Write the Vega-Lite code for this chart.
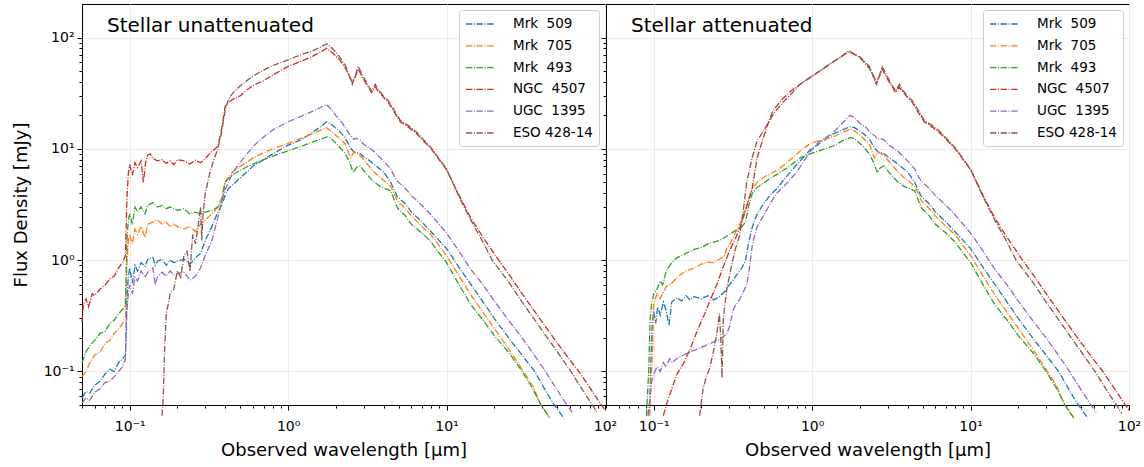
{
"$schema":"https://vega.github.io/schema/vega-lite/v6.json",
"padding":{"left":11,"top":3,"right":5,"bottom":5},
"bounds":"flush",
"spacing":1,
"datasets":{
"names":[{"g":"B","name":"Mrk\u00a0\u00a0509"},{"g":"O","name":"Mrk\u00a0\u00a0705"},{"g":"G","name":"Mrk\u00a0\u00a0493"},{"g":"R","name":"NGC\u00a0\u00a04507"},{"g":"P","name":"UGC\u00a0\u00a01395"},{"g":"N","name":"ESO 428-14"}],
"sed":[
{"p":"u","g":"B","x":0.05,"y":0.058},{"p":"u","g":"B","x":0.053,"y":0.066},{"p":"u","g":"B","x":0.056,"y":0.064},{"p":"u","g":"B","x":0.06,"y":0.075},{"p":"u","g":"B","x":0.065,"y":0.082},{"p":"u","g":"B","x":0.07,"y":0.095},{"p":"u","g":"B","x":0.075,"y":0.105},{"p":"u","g":"B","x":0.08,"y":0.1},{"p":"u","g":"B","x":0.085,"y":0.12},{"p":"u","g":"B","x":0.09,"y":0.13},{"p":"u","g":"B","x":0.094,"y":0.14},{"p":"u","g":"B","x":0.096,"y":0.45},{"p":"u","g":"B","x":0.098,"y":0.7},{"p":"u","g":"B","x":0.1,"y":0.85},{"p":"u","g":"B","x":0.104,"y":0.62},{"p":"u","g":"B","x":0.108,"y":0.9},{"p":"u","g":"B","x":0.112,"y":0.8},{"p":"u","g":"B","x":0.118,"y":0.95},{"p":"u","g":"B","x":0.125,"y":0.88},{"p":"u","g":"B","x":0.13,"y":1.02},{"p":"u","g":"B","x":0.14,"y":1.06},{"p":"u","g":"B","x":0.145,"y":0.9},{"p":"u","g":"B","x":0.15,"y":0.98},{"p":"u","g":"B","x":0.16,"y":1.02},{"p":"u","g":"B","x":0.17,"y":0.9},{"p":"u","g":"B","x":0.18,"y":1.0},{"p":"u","g":"B","x":0.19,"y":0.95},{"p":"u","g":"B","x":0.2,"y":0.98},{"p":"u","g":"B","x":0.22,"y":1.02},{"p":"u","g":"B","x":0.24,"y":0.92},{"p":"u","g":"B","x":0.26,"y":1.05},{"p":"u","g":"B","x":0.28,"y":1.15},{"p":"u","g":"B","x":0.3,"y":1.5},{"p":"u","g":"B","x":0.33,"y":2.0},{"p":"u","g":"B","x":0.36,"y":2.7},{"p":"u","g":"B","x":0.38,"y":3.1},{"p":"u","g":"B","x":0.4,"y":3.8},{"p":"u","g":"B","x":0.42,"y":4.4},{"p":"u","g":"B","x":0.45,"y":4.8},{"p":"u","g":"B","x":0.5,"y":5.5},{"p":"u","g":"B","x":0.55,"y":6.2},{"p":"u","g":"B","x":0.6,"y":7.0},{"p":"u","g":"B","x":0.7,"y":8.0},{"p":"u","g":"B","x":0.8,"y":9.0},{"p":"u","g":"B","x":1.0,"y":10.8},{"p":"u","g":"B","x":1.2,"y":12.0},{"p":"u","g":"B","x":1.4,"y":13.8},{"p":"u","g":"B","x":1.6,"y":15.8},{"p":"u","g":"B","x":1.75,"y":17.5},{"p":"u","g":"B","x":1.85,"y":16.8},{"p":"u","g":"B","x":2.1,"y":14.5},{"p":"u","g":"B","x":2.3,"y":12.5},
{"p":"u","g":"O","x":0.05,"y":0.09},{"p":"u","g":"O","x":0.053,"y":0.1},{"p":"u","g":"O","x":0.056,"y":0.12},{"p":"u","g":"O","x":0.06,"y":0.14},{"p":"u","g":"O","x":0.065,"y":0.15},{"p":"u","g":"O","x":0.07,"y":0.18},{"p":"u","g":"O","x":0.075,"y":0.19},{"p":"u","g":"O","x":0.08,"y":0.22},{"p":"u","g":"O","x":0.085,"y":0.24},{"p":"u","g":"O","x":0.09,"y":0.27},{"p":"u","g":"O","x":0.094,"y":0.3},{"p":"u","g":"O","x":0.096,"y":0.9},{"p":"u","g":"O","x":0.098,"y":1.5},{"p":"u","g":"O","x":0.1,"y":1.7},{"p":"u","g":"O","x":0.104,"y":1.4},{"p":"u","g":"O","x":0.108,"y":1.9},{"p":"u","g":"O","x":0.112,"y":1.7},{"p":"u","g":"O","x":0.118,"y":2.0},{"p":"u","g":"O","x":0.125,"y":1.6},{"p":"u","g":"O","x":0.13,"y":2.1},{"p":"u","g":"O","x":0.14,"y":2.2},{"p":"u","g":"O","x":0.15,"y":2.3},{"p":"u","g":"O","x":0.16,"y":2.1},{"p":"u","g":"O","x":0.17,"y":2.2},{"p":"u","g":"O","x":0.18,"y":2.0},{"p":"u","g":"O","x":0.19,"y":2.1},{"p":"u","g":"O","x":0.2,"y":2.0},{"p":"u","g":"O","x":0.22,"y":1.9},{"p":"u","g":"O","x":0.24,"y":2.0},{"p":"u","g":"O","x":0.26,"y":1.8},{"p":"u","g":"O","x":0.28,"y":2.1},{"p":"u","g":"O","x":0.3,"y":2.3},{"p":"u","g":"O","x":0.33,"y":2.6},{"p":"u","g":"O","x":0.36,"y":3.0},{"p":"u","g":"O","x":0.38,"y":3.6},{"p":"u","g":"O","x":0.4,"y":5.0},{"p":"u","g":"O","x":0.42,"y":5.6},{"p":"u","g":"O","x":0.45,"y":6.3},{"p":"u","g":"O","x":0.5,"y":7.0},{"p":"u","g":"O","x":0.55,"y":7.6},{"p":"u","g":"O","x":0.6,"y":8.3},{"p":"u","g":"O","x":0.7,"y":9.2},{"p":"u","g":"O","x":0.8,"y":10.0},{"p":"u","g":"O","x":1.0,"y":11.2},{"p":"u","g":"O","x":1.2,"y":12.4},{"p":"u","g":"O","x":1.4,"y":13.5},{"p":"u","g":"O","x":1.6,"y":14.7},{"p":"u","g":"O","x":1.75,"y":15.5},{"p":"u","g":"O","x":1.85,"y":14.5},{"p":"u","g":"O","x":2.1,"y":12.5},{"p":"u","g":"O","x":2.3,"y":11.0},
{"p":"u","g":"G","x":0.05,"y":0.12},{"p":"u","g":"G","x":0.053,"y":0.15},{"p":"u","g":"G","x":0.056,"y":0.17},{"p":"u","g":"G","x":0.06,"y":0.19},{"p":"u","g":"G","x":0.065,"y":0.22},{"p":"u","g":"G","x":0.07,"y":0.23},{"p":"u","g":"G","x":0.075,"y":0.27},{"p":"u","g":"G","x":0.08,"y":0.29},{"p":"u","g":"G","x":0.085,"y":0.33},{"p":"u","g":"G","x":0.09,"y":0.36},{"p":"u","g":"G","x":0.094,"y":0.4},{"p":"u","g":"G","x":0.096,"y":1.5},{"p":"u","g":"G","x":0.098,"y":2.3},{"p":"u","g":"G","x":0.1,"y":2.6},{"p":"u","g":"G","x":0.104,"y":2.1},{"p":"u","g":"G","x":0.108,"y":3.0},{"p":"u","g":"G","x":0.112,"y":2.7},{"p":"u","g":"G","x":0.118,"y":3.0},{"p":"u","g":"G","x":0.125,"y":2.6},{"p":"u","g":"G","x":0.13,"y":3.1},{"p":"u","g":"G","x":0.14,"y":3.3},{"p":"u","g":"G","x":0.15,"y":3.0},{"p":"u","g":"G","x":0.16,"y":3.1},{"p":"u","g":"G","x":0.17,"y":2.9},{"p":"u","g":"G","x":0.18,"y":3.0},{"p":"u","g":"G","x":0.19,"y":2.9},{"p":"u","g":"G","x":0.2,"y":2.8},{"p":"u","g":"G","x":0.22,"y":2.9},{"p":"u","g":"G","x":0.24,"y":2.6},{"p":"u","g":"G","x":0.26,"y":2.7},{"p":"u","g":"G","x":0.28,"y":2.6},{"p":"u","g":"G","x":0.3,"y":2.7},{"p":"u","g":"G","x":0.33,"y":2.8},{"p":"u","g":"G","x":0.36,"y":3.0},{"p":"u","g":"G","x":0.38,"y":3.3},{"p":"u","g":"G","x":0.4,"y":5.0},{"p":"u","g":"G","x":0.42,"y":5.4},{"p":"u","g":"G","x":0.45,"y":5.9},{"p":"u","g":"G","x":0.5,"y":6.4},{"p":"u","g":"G","x":0.55,"y":6.9},{"p":"u","g":"G","x":0.6,"y":7.3},{"p":"u","g":"G","x":0.7,"y":8.0},{"p":"u","g":"G","x":0.8,"y":8.6},{"p":"u","g":"G","x":1.0,"y":9.6},{"p":"u","g":"G","x":1.2,"y":10.5},{"p":"u","g":"G","x":1.4,"y":11.4},{"p":"u","g":"G","x":1.6,"y":12.2},{"p":"u","g":"G","x":1.75,"y":12.8},{"p":"u","g":"G","x":1.85,"y":12.6},{"p":"u","g":"G","x":2.1,"y":10.5},{"p":"u","g":"G","x":2.3,"y":9.0},
{"p":"u","g":"R","x":0.05,"y":0.28},{"p":"u","g":"R","x":0.051,"y":0.4},{"p":"u","g":"R","x":0.053,"y":0.45},{"p":"u","g":"R","x":0.055,"y":0.38},{"p":"u","g":"R","x":0.058,"y":0.5},{"p":"u","g":"R","x":0.06,"y":0.48},{"p":"u","g":"R","x":0.065,"y":0.55},{"p":"u","g":"R","x":0.07,"y":0.6},{"p":"u","g":"R","x":0.075,"y":0.68},{"p":"u","g":"R","x":0.08,"y":0.72},{"p":"u","g":"R","x":0.085,"y":0.85},{"p":"u","g":"R","x":0.09,"y":0.95},{"p":"u","g":"R","x":0.094,"y":1.1},{"p":"u","g":"R","x":0.096,"y":3.5},{"p":"u","g":"R","x":0.098,"y":6.0},{"p":"u","g":"R","x":0.1,"y":7.2},{"p":"u","g":"R","x":0.104,"y":5.8},{"p":"u","g":"R","x":0.108,"y":7.5},{"p":"u","g":"R","x":0.112,"y":6.8},{"p":"u","g":"R","x":0.118,"y":7.8},{"p":"u","g":"R","x":0.122,"y":5.0},{"p":"u","g":"R","x":0.126,"y":7.5},{"p":"u","g":"R","x":0.13,"y":8.8},{"p":"u","g":"R","x":0.135,"y":9.0},{"p":"u","g":"R","x":0.14,"y":8.2},{"p":"u","g":"R","x":0.15,"y":7.8},{"p":"u","g":"R","x":0.16,"y":8.0},{"p":"u","g":"R","x":0.17,"y":7.4},{"p":"u","g":"R","x":0.18,"y":7.8},{"p":"u","g":"R","x":0.19,"y":7.2},{"p":"u","g":"R","x":0.2,"y":8.0},{"p":"u","g":"R","x":0.22,"y":7.8},{"p":"u","g":"R","x":0.24,"y":7.3},{"p":"u","g":"R","x":0.26,"y":7.9},{"p":"u","g":"R","x":0.28,"y":7.5},{"p":"u","g":"R","x":0.3,"y":8.2},{"p":"u","g":"R","x":0.33,"y":9.5},{"p":"u","g":"R","x":0.36,"y":10.5},{"p":"u","g":"R","x":0.38,"y":15},{"p":"u","g":"R","x":0.4,"y":24},{"p":"u","g":"R","x":0.42,"y":26},{"p":"u","g":"R","x":0.45,"y":28},{"p":"u","g":"R","x":0.5,"y":30},{"p":"u","g":"R","x":0.55,"y":34},{"p":"u","g":"R","x":0.6,"y":37},{"p":"u","g":"R","x":0.7,"y":41},{"p":"u","g":"R","x":0.8,"y":46},{"p":"u","g":"R","x":1.0,"y":55},{"p":"u","g":"R","x":1.2,"y":61},{"p":"u","g":"R","x":1.4,"y":67},{"p":"u","g":"R","x":1.6,"y":74},{"p":"u","g":"R","x":1.75,"y":80},{"p":"u","g":"R","x":1.9,"y":73},{"p":"u","g":"R","x":2.1,"y":64},{"p":"u","g":"R","x":2.3,"y":53},
{"p":"u","g":"P","x":0.05,"y":0.052},{"p":"u","g":"P","x":0.053,"y":0.058},{"p":"u","g":"P","x":0.056,"y":0.055},{"p":"u","g":"P","x":0.06,"y":0.065},{"p":"u","g":"P","x":0.065,"y":0.07},{"p":"u","g":"P","x":0.07,"y":0.08},{"p":"u","g":"P","x":0.075,"y":0.082},{"p":"u","g":"P","x":0.08,"y":0.09},{"p":"u","g":"P","x":0.085,"y":0.1},{"p":"u","g":"P","x":0.09,"y":0.11},{"p":"u","g":"P","x":0.094,"y":0.13},{"p":"u","g":"P","x":0.096,"y":0.35},{"p":"u","g":"P","x":0.098,"y":0.5},{"p":"u","g":"P","x":0.1,"y":0.6},{"p":"u","g":"P","x":0.104,"y":0.5},{"p":"u","g":"P","x":0.108,"y":0.7},{"p":"u","g":"P","x":0.112,"y":0.65},{"p":"u","g":"P","x":0.118,"y":0.8},{"p":"u","g":"P","x":0.125,"y":0.7},{"p":"u","g":"P","x":0.13,"y":0.78},{"p":"u","g":"P","x":0.14,"y":0.85},{"p":"u","g":"P","x":0.145,"y":0.6},{"p":"u","g":"P","x":0.15,"y":0.72},{"p":"u","g":"P","x":0.16,"y":0.78},{"p":"u","g":"P","x":0.17,"y":0.72},{"p":"u","g":"P","x":0.18,"y":0.8},{"p":"u","g":"P","x":0.19,"y":0.74},{"p":"u","g":"P","x":0.2,"y":0.76},{"p":"u","g":"P","x":0.22,"y":0.78},{"p":"u","g":"P","x":0.24,"y":0.66},{"p":"u","g":"P","x":0.26,"y":0.72},{"p":"u","g":"P","x":0.28,"y":0.85},{"p":"u","g":"P","x":0.3,"y":1.1},{"p":"u","g":"P","x":0.33,"y":1.5},{"p":"u","g":"P","x":0.36,"y":2.4},{"p":"u","g":"P","x":0.38,"y":3.3},{"p":"u","g":"P","x":0.4,"y":4.3},{"p":"u","g":"P","x":0.42,"y":5.0},{"p":"u","g":"P","x":0.45,"y":6.2},{"p":"u","g":"P","x":0.5,"y":7.6},{"p":"u","g":"P","x":0.55,"y":9.0},{"p":"u","g":"P","x":0.6,"y":10.5},{"p":"u","g":"P","x":0.7,"y":12.8},{"p":"u","g":"P","x":0.8,"y":14.8},{"p":"u","g":"P","x":1.0,"y":17.5},{"p":"u","g":"P","x":1.2,"y":19.5},{"p":"u","g":"P","x":1.4,"y":21.5},{"p":"u","g":"P","x":1.6,"y":23.5},{"p":"u","g":"P","x":1.75,"y":25.0},{"p":"u","g":"P","x":1.85,"y":23},{"p":"u","g":"P","x":2.0,"y":20},{"p":"u","g":"P","x":2.2,"y":17},
{"p":"u","g":"N","x":0.16,"y":0.04},{"p":"u","g":"N","x":0.163,"y":0.06},{"p":"u","g":"N","x":0.166,"y":0.15},{"p":"u","g":"N","x":0.17,"y":0.33},{"p":"u","g":"N","x":0.175,"y":0.4},{"p":"u","g":"N","x":0.18,"y":0.5},{"p":"u","g":"N","x":0.19,"y":0.55},{"p":"u","g":"N","x":0.2,"y":0.8},{"p":"u","g":"N","x":0.21,"y":0.7},{"p":"u","g":"N","x":0.22,"y":1.1},{"p":"u","g":"N","x":0.23,"y":1.2},{"p":"u","g":"N","x":0.24,"y":0.8},{"p":"u","g":"N","x":0.25,"y":1.7},{"p":"u","g":"N","x":0.26,"y":1.4},{"p":"u","g":"N","x":0.27,"y":2.0},{"p":"u","g":"N","x":0.28,"y":3.0},{"p":"u","g":"N","x":0.285,"y":1.5},{"p":"u","g":"N","x":0.29,"y":2.5},{"p":"u","g":"N","x":0.3,"y":4.0},{"p":"u","g":"N","x":0.32,"y":6},{"p":"u","g":"N","x":0.34,"y":8},{"p":"u","g":"N","x":0.36,"y":10},{"p":"u","g":"N","x":0.38,"y":14},{"p":"u","g":"N","x":0.4,"y":22},{"p":"u","g":"N","x":0.42,"y":28},{"p":"u","g":"N","x":0.45,"y":32},{"p":"u","g":"N","x":0.5,"y":37},{"p":"u","g":"N","x":0.55,"y":41},{"p":"u","g":"N","x":0.6,"y":45},{"p":"u","g":"N","x":0.7,"y":51},{"p":"u","g":"N","x":0.8,"y":56},{"p":"u","g":"N","x":1.0,"y":63},{"p":"u","g":"N","x":1.2,"y":70},{"p":"u","g":"N","x":1.4,"y":75},{"p":"u","g":"N","x":1.6,"y":82},{"p":"u","g":"N","x":1.75,"y":88},{"p":"u","g":"N","x":1.9,"y":80},{"p":"u","g":"N","x":2.1,"y":68},{"p":"u","g":"N","x":2.3,"y":56},
{"p":"a","g":"B","x":0.094,"y":0.04},{"p":"a","g":"B","x":0.096,"y":0.12},{"p":"a","g":"B","x":0.098,"y":0.28},{"p":"a","g":"B","x":0.1,"y":0.35},{"p":"a","g":"B","x":0.103,"y":0.27},{"p":"a","g":"B","x":0.106,"y":0.38},{"p":"a","g":"B","x":0.11,"y":0.32},{"p":"a","g":"B","x":0.115,"y":0.42},{"p":"a","g":"B","x":0.12,"y":0.35},{"p":"a","g":"B","x":0.125,"y":0.26},{"p":"a","g":"B","x":0.13,"y":0.42},{"p":"a","g":"B","x":0.14,"y":0.46},{"p":"a","g":"B","x":0.15,"y":0.43},{"p":"a","g":"B","x":0.16,"y":0.48},{"p":"a","g":"B","x":0.17,"y":0.44},{"p":"a","g":"B","x":0.18,"y":0.47},{"p":"a","g":"B","x":0.2,"y":0.45},{"p":"a","g":"B","x":0.22,"y":0.48},{"p":"a","g":"B","x":0.24,"y":0.44},{"p":"a","g":"B","x":0.26,"y":0.47},{"p":"a","g":"B","x":0.28,"y":0.52},{"p":"a","g":"B","x":0.3,"y":0.6},{"p":"a","g":"B","x":0.33,"y":0.72},{"p":"a","g":"B","x":0.36,"y":0.85},{"p":"a","g":"B","x":0.38,"y":1.0},{"p":"a","g":"B","x":0.4,"y":1.5},{"p":"a","g":"B","x":0.42,"y":2.0},{"p":"a","g":"B","x":0.45,"y":2.6},{"p":"a","g":"B","x":0.5,"y":3.3},{"p":"a","g":"B","x":0.55,"y":3.9},{"p":"a","g":"B","x":0.6,"y":4.4},{"p":"a","g":"B","x":0.7,"y":5.8},{"p":"a","g":"B","x":0.8,"y":7.2},{"p":"a","g":"B","x":0.97,"y":9.8},{"p":"a","g":"B","x":1.2,"y":12.0},{"p":"a","g":"B","x":1.36,"y":13.6},{"p":"a","g":"B","x":1.55,"y":14.8},{"p":"a","g":"B","x":1.74,"y":15.8},{"p":"a","g":"B","x":1.85,"y":15.5},{"p":"a","g":"B","x":2.1,"y":13.8},{"p":"a","g":"B","x":2.3,"y":12.2},
{"p":"a","g":"O","x":0.094,"y":0.04},{"p":"a","g":"O","x":0.096,"y":0.08},{"p":"a","g":"O","x":0.098,"y":0.14},{"p":"a","g":"O","x":0.1,"y":0.4},{"p":"a","g":"O","x":0.105,"y":0.5},{"p":"a","g":"O","x":0.11,"y":0.45},{"p":"a","g":"O","x":0.12,"y":0.58},{"p":"a","g":"O","x":0.13,"y":0.62},{"p":"a","g":"O","x":0.14,"y":0.7},{"p":"a","g":"O","x":0.15,"y":0.75},{"p":"a","g":"O","x":0.16,"y":0.8},{"p":"a","g":"O","x":0.18,"y":0.85},{"p":"a","g":"O","x":0.2,"y":0.92},{"p":"a","g":"O","x":0.22,"y":0.96},{"p":"a","g":"O","x":0.24,"y":0.95},{"p":"a","g":"O","x":0.26,"y":1.02},{"p":"a","g":"O","x":0.28,"y":1.1},{"p":"a","g":"O","x":0.29,"y":1.3},{"p":"a","g":"O","x":0.3,"y":1.35},{"p":"a","g":"O","x":0.33,"y":1.8},{"p":"a","g":"O","x":0.36,"y":2.3},{"p":"a","g":"O","x":0.38,"y":2.9},{"p":"a","g":"O","x":0.4,"y":3.6},{"p":"a","g":"O","x":0.42,"y":4.4},{"p":"a","g":"O","x":0.45,"y":5.0},{"p":"a","g":"O","x":0.5,"y":5.6},{"p":"a","g":"O","x":0.55,"y":6.0},{"p":"a","g":"O","x":0.6,"y":6.4},{"p":"a","g":"O","x":0.7,"y":7.6},{"p":"a","g":"O","x":0.8,"y":9.0},{"p":"a","g":"O","x":0.97,"y":11.2},{"p":"a","g":"O","x":1.2,"y":12.2},{"p":"a","g":"O","x":1.36,"y":12.8},{"p":"a","g":"O","x":1.55,"y":14.0},{"p":"a","g":"O","x":1.74,"y":15.0},{"p":"a","g":"O","x":1.85,"y":14.5},{"p":"a","g":"O","x":2.1,"y":12.5},{"p":"a","g":"O","x":2.3,"y":11.0},
{"p":"a","g":"G","x":0.09,"y":0.04},{"p":"a","g":"G","x":0.093,"y":0.1},{"p":"a","g":"G","x":0.095,"y":0.3},{"p":"a","g":"G","x":0.097,"y":0.4},{"p":"a","g":"G","x":0.1,"y":0.5},{"p":"a","g":"G","x":0.105,"y":0.55},{"p":"a","g":"G","x":0.11,"y":0.65},{"p":"a","g":"G","x":0.114,"y":0.6},{"p":"a","g":"G","x":0.12,"y":0.8},{"p":"a","g":"G","x":0.13,"y":0.95},{"p":"a","g":"G","x":0.14,"y":1.05},{"p":"a","g":"G","x":0.15,"y":1.1},{"p":"a","g":"G","x":0.16,"y":1.15},{"p":"a","g":"G","x":0.18,"y":1.25},{"p":"a","g":"G","x":0.2,"y":1.3},{"p":"a","g":"G","x":0.22,"y":1.4},{"p":"a","g":"G","x":0.24,"y":1.45},{"p":"a","g":"G","x":0.26,"y":1.5},{"p":"a","g":"G","x":0.28,"y":1.6},{"p":"a","g":"G","x":0.3,"y":1.7},{"p":"a","g":"G","x":0.33,"y":1.85},{"p":"a","g":"G","x":0.36,"y":2.0},{"p":"a","g":"G","x":0.38,"y":2.2},{"p":"a","g":"G","x":0.4,"y":3.2},{"p":"a","g":"G","x":0.42,"y":4.0},{"p":"a","g":"G","x":0.45,"y":4.5},{"p":"a","g":"G","x":0.5,"y":5.0},{"p":"a","g":"G","x":0.55,"y":5.5},{"p":"a","g":"G","x":0.6,"y":5.9},{"p":"a","g":"G","x":0.7,"y":6.8},{"p":"a","g":"G","x":0.84,"y":8.3},{"p":"a","g":"G","x":0.97,"y":9.0},{"p":"a","g":"G","x":1.2,"y":10.0},{"p":"a","g":"G","x":1.36,"y":10.6},{"p":"a","g":"G","x":1.55,"y":11.8},{"p":"a","g":"G","x":1.74,"y":12.6},{"p":"a","g":"G","x":1.85,"y":12.4},{"p":"a","g":"G","x":2.1,"y":10.5},{"p":"a","g":"G","x":2.3,"y":9.0},
{"p":"a","g":"R","x":0.115,"y":0.04},{"p":"a","g":"R","x":0.12,"y":0.05},{"p":"a","g":"R","x":0.13,"y":0.07},{"p":"a","g":"R","x":0.14,"y":0.094},{"p":"a","g":"R","x":0.155,"y":0.12},{"p":"a","g":"R","x":0.17,"y":0.16},{"p":"a","g":"R","x":0.19,"y":0.24},{"p":"a","g":"R","x":0.21,"y":0.33},{"p":"a","g":"R","x":0.226,"y":0.43},{"p":"a","g":"R","x":0.25,"y":0.6},{"p":"a","g":"R","x":0.273,"y":0.85},{"p":"a","g":"R","x":0.3,"y":1.2},{"p":"a","g":"R","x":0.33,"y":1.6},{"p":"a","g":"R","x":0.35,"y":1.95},{"p":"a","g":"R","x":0.38,"y":2.8},{"p":"a","g":"R","x":0.4,"y":3.6},{"p":"a","g":"R","x":0.42,"y":4.5},{"p":"a","g":"R","x":0.449,"y":8.3},{"p":"a","g":"R","x":0.47,"y":10.2},{"p":"a","g":"R","x":0.52,"y":16},{"p":"a","g":"R","x":0.566,"y":22},{"p":"a","g":"R","x":0.65,"y":28},{"p":"a","g":"R","x":0.75,"y":34},{"p":"a","g":"R","x":0.84,"y":38},{"p":"a","g":"R","x":1.07,"y":48},{"p":"a","g":"R","x":1.3,"y":58},{"p":"a","g":"R","x":1.5,"y":66},{"p":"a","g":"R","x":1.69,"y":74},{"p":"a","g":"R","x":1.8,"y":72},{"p":"a","g":"R","x":2.0,"y":66},{"p":"a","g":"R","x":2.3,"y":53},
{"p":"a","g":"P","x":0.092,"y":0.04},{"p":"a","g":"P","x":0.095,"y":0.06},{"p":"a","g":"P","x":0.097,"y":0.08},{"p":"a","g":"P","x":0.1,"y":0.095},{"p":"a","g":"P","x":0.105,"y":0.11},{"p":"a","g":"P","x":0.11,"y":0.1},{"p":"a","g":"P","x":0.115,"y":0.12},{"p":"a","g":"P","x":0.12,"y":0.11},{"p":"a","g":"P","x":0.126,"y":0.13},{"p":"a","g":"P","x":0.13,"y":0.12},{"p":"a","g":"P","x":0.14,"y":0.13},{"p":"a","g":"P","x":0.153,"y":0.14},{"p":"a","g":"P","x":0.17,"y":0.15},{"p":"a","g":"P","x":0.19,"y":0.16},{"p":"a","g":"P","x":0.21,"y":0.17},{"p":"a","g":"P","x":0.23,"y":0.18},{"p":"a","g":"P","x":0.25,"y":0.19},{"p":"a","g":"P","x":0.27,"y":0.2},{"p":"a","g":"P","x":0.29,"y":0.22},{"p":"a","g":"P","x":0.3,"y":0.25},{"p":"a","g":"P","x":0.32,"y":0.37},{"p":"a","g":"P","x":0.35,"y":0.45},{"p":"a","g":"P","x":0.387,"y":0.6},{"p":"a","g":"P","x":0.4,"y":0.8},{"p":"a","g":"P","x":0.42,"y":1.4},{"p":"a","g":"P","x":0.45,"y":2.0},{"p":"a","g":"P","x":0.5,"y":2.6},{"p":"a","g":"P","x":0.55,"y":3.3},{"p":"a","g":"P","x":0.6,"y":4.0},{"p":"a","g":"P","x":0.7,"y":5.0},{"p":"a","g":"P","x":0.8,"y":6.2},{"p":"a","g":"P","x":0.97,"y":9.4},{"p":"a","g":"P","x":1.1,"y":11.5},{"p":"a","g":"P","x":1.36,"y":14},{"p":"a","g":"P","x":1.55,"y":17},{"p":"a","g":"P","x":1.74,"y":20},{"p":"a","g":"P","x":1.85,"y":19},{"p":"a","g":"P","x":2.0,"y":17},{"p":"a","g":"P","x":2.2,"y":15.5},{"p":"a","g":"P","x":2.33,"y":13.8},
{"p":"a","g":"N","x":0.195,"y":0.04},{"p":"a","g":"N","x":0.205,"y":0.07},{"p":"a","g":"N","x":0.215,"y":0.09},{"p":"a","g":"N","x":0.226,"y":0.107},{"p":"a","g":"N","x":0.24,"y":0.16},{"p":"a","g":"N","x":0.25,"y":0.215},{"p":"a","g":"N","x":0.26,"y":0.33},{"p":"a","g":"N","x":0.265,"y":0.2},{"p":"a","g":"N","x":0.27,"y":0.087},{"p":"a","g":"N","x":0.275,"y":0.3},{"p":"a","g":"N","x":0.29,"y":0.56},{"p":"a","g":"N","x":0.31,"y":0.9},{"p":"a","g":"N","x":0.33,"y":1.3},{"p":"a","g":"N","x":0.35,"y":1.7},{"p":"a","g":"N","x":0.37,"y":3.0},{"p":"a","g":"N","x":0.387,"y":5.1},{"p":"a","g":"N","x":0.42,"y":8.5},{"p":"a","g":"N","x":0.45,"y":11.8},{"p":"a","g":"N","x":0.5,"y":15},{"p":"a","g":"N","x":0.57,"y":20.6},{"p":"a","g":"N","x":0.65,"y":26},{"p":"a","g":"N","x":0.72,"y":30},{"p":"a","g":"N","x":0.84,"y":38},{"p":"a","g":"N","x":1.07,"y":48},{"p":"a","g":"N","x":1.3,"y":58},{"p":"a","g":"N","x":1.5,"y":66},{"p":"a","g":"N","x":1.69,"y":76},{"p":"a","g":"N","x":1.8,"y":73},{"p":"a","g":"N","x":2.0,"y":67},{"p":"a","g":"N","x":2.3,"y":55},
{"p":"b","g":"B","x":2.47,"y":10.2},{"p":"b","g":"B","x":2.6,"y":9.4},{"p":"b","g":"B","x":2.75,"y":9.2},{"p":"b","g":"B","x":2.85,"y":9.0},{"p":"b","g":"B","x":3.0,"y":8.5},{"p":"b","g":"B","x":3.2,"y":8.0},{"p":"b","g":"B","x":3.6,"y":7.0},{"p":"b","g":"B","x":4.0,"y":6.2},{"p":"b","g":"B","x":4.44,"y":5.0},{"p":"b","g":"B","x":4.7,"y":4.2},{"p":"b","g":"B","x":4.9,"y":3.7},{"p":"b","g":"B","x":5.5,"y":3.2},{"p":"b","g":"B","x":6.0,"y":2.7},{"p":"b","g":"B","x":7.0,"y":2.2},{"p":"b","g":"B","x":7.9,"y":1.83},{"p":"b","g":"B","x":10,"y":1.27},{"p":"b","g":"B","x":12,"y":0.86},{"p":"b","g":"B","x":14.2,"y":0.61},{"p":"b","g":"B","x":17,"y":0.42},{"p":"b","g":"B","x":20,"y":0.3},{"p":"b","g":"B","x":25,"y":0.195},{"p":"b","g":"B","x":30,"y":0.14},{"p":"b","g":"B","x":36,"y":0.1},{"p":"b","g":"B","x":42,"y":0.068},{"p":"b","g":"B","x":47,"y":0.052},{"p":"b","g":"B","x":55,"y":0.038},
{"p":"b","g":"O","x":2.47,"y":8.3},{"p":"b","g":"O","x":2.6,"y":9.3},{"p":"b","g":"O","x":2.75,"y":9.0},{"p":"b","g":"O","x":2.9,"y":8.4},{"p":"b","g":"O","x":3.1,"y":7.5},{"p":"b","g":"O","x":3.45,"y":6.3},{"p":"b","g":"O","x":3.8,"y":5.5},{"p":"b","g":"O","x":4.1,"y":5.1},{"p":"b","g":"O","x":4.44,"y":4.6},{"p":"b","g":"O","x":4.7,"y":3.9},{"p":"b","g":"O","x":4.9,"y":3.4},{"p":"b","g":"O","x":5.5,"y":2.9},{"p":"b","g":"O","x":6.0,"y":2.5},{"p":"b","g":"O","x":7.0,"y":2.0},{"p":"b","g":"O","x":7.9,"y":1.72},{"p":"b","g":"O","x":10,"y":1.1},{"p":"b","g":"O","x":12,"y":0.72},{"p":"b","g":"O","x":14.2,"y":0.49},{"p":"b","g":"O","x":17,"y":0.34},{"p":"b","g":"O","x":20,"y":0.245},{"p":"b","g":"O","x":25,"y":0.155},{"p":"b","g":"O","x":30.6,"y":0.1},{"p":"b","g":"O","x":35,"y":0.074},{"p":"b","g":"O","x":39.4,"y":0.05},{"p":"b","g":"O","x":45,"y":0.038},
{"p":"b","g":"G","x":2.45,"y":7.5},{"p":"b","g":"G","x":2.58,"y":6.1},{"p":"b","g":"G","x":2.7,"y":6.8},{"p":"b","g":"G","x":2.85,"y":7.0},{"p":"b","g":"G","x":3.1,"y":6.0},{"p":"b","g":"G","x":3.45,"y":5.1},{"p":"b","g":"G","x":3.8,"y":4.6},{"p":"b","g":"G","x":4.1,"y":4.4},{"p":"b","g":"G","x":4.44,"y":4.2},{"p":"b","g":"G","x":4.7,"y":3.4},{"p":"b","g":"G","x":4.9,"y":2.94},{"p":"b","g":"G","x":5.5,"y":2.5},{"p":"b","g":"G","x":6.0,"y":2.1},{"p":"b","g":"G","x":7.0,"y":1.75},{"p":"b","g":"G","x":7.9,"y":1.48},{"p":"b","g":"G","x":10,"y":0.95},{"p":"b","g":"G","x":12,"y":0.6},{"p":"b","g":"G","x":14.2,"y":0.4},{"p":"b","g":"G","x":17,"y":0.29},{"p":"b","g":"G","x":20,"y":0.21},{"p":"b","g":"G","x":25,"y":0.145},{"p":"b","g":"G","x":30,"y":0.1},{"p":"b","g":"G","x":35,"y":0.07},{"p":"b","g":"G","x":39.4,"y":0.05},{"p":"b","g":"G","x":45,"y":0.038},
{"p":"b","g":"P","x":2.47,"y":13.2},{"p":"b","g":"P","x":2.6,"y":12.2},{"p":"b","g":"P","x":2.7,"y":12.4},{"p":"b","g":"P","x":2.85,"y":12.0},{"p":"b","g":"P","x":3.0,"y":11.0},{"p":"b","g":"P","x":3.45,"y":9.6},{"p":"b","g":"P","x":4.0,"y":7.8},{"p":"b","g":"P","x":4.44,"y":6.6},{"p":"b","g":"P","x":4.7,"y":5.6},{"p":"b","g":"P","x":4.9,"y":5.1},{"p":"b","g":"P","x":5.5,"y":4.4},{"p":"b","g":"P","x":6.0,"y":3.8},{"p":"b","g":"P","x":7.0,"y":3.1},{"p":"b","g":"P","x":7.9,"y":2.6},{"p":"b","g":"P","x":10,"y":1.75},{"p":"b","g":"P","x":12,"y":1.2},{"p":"b","g":"P","x":14.2,"y":0.83},{"p":"b","g":"P","x":17,"y":0.6},{"p":"b","g":"P","x":20,"y":0.43},{"p":"b","g":"P","x":25,"y":0.28},{"p":"b","g":"P","x":30,"y":0.2},{"p":"b","g":"P","x":40,"y":0.112},{"p":"b","g":"P","x":50,"y":0.068},{"p":"b","g":"P","x":56.5,"y":0.052},{"p":"b","g":"P","x":62,"y":0.043},
{"p":"b","g":"R","x":2.54,"y":40},{"p":"b","g":"R","x":2.65,"y":44},{"p":"b","g":"R","x":2.77,"y":52},{"p":"b","g":"R","x":2.9,"y":46},{"p":"b","g":"R","x":3.0,"y":42},{"p":"b","g":"R","x":3.2,"y":36},{"p":"b","g":"R","x":3.37,"y":32},{"p":"b","g":"R","x":3.55,"y":36},{"p":"b","g":"R","x":3.7,"y":33},{"p":"b","g":"R","x":4.0,"y":29},{"p":"b","g":"R","x":4.3,"y":26},{"p":"b","g":"R","x":4.7,"y":21},{"p":"b","g":"R","x":5.1,"y":17.5},{"p":"b","g":"R","x":5.8,"y":15.5},{"p":"b","g":"R","x":6.5,"y":13.6},{"p":"b","g":"R","x":8,"y":10},{"p":"b","g":"R","x":10,"y":6.5},{"p":"b","g":"R","x":12,"y":3.8},{"p":"b","g":"R","x":14.2,"y":2.4},{"p":"b","g":"R","x":17,"y":1.6},{"p":"b","g":"R","x":21.3,"y":1.0},{"p":"b","g":"R","x":25,"y":0.73},{"p":"b","g":"R","x":30,"y":0.5},{"p":"b","g":"R","x":40,"y":0.28},{"p":"b","g":"R","x":50,"y":0.18},{"p":"b","g":"R","x":60,"y":0.127},{"p":"b","g":"R","x":68.4,"y":0.1},{"p":"b","g":"R","x":80,"y":0.072},{"p":"b","g":"R","x":94,"y":0.051},{"p":"b","g":"R","x":100,"y":0.045},
{"p":"b","g":"N","x":2.54,"y":38},{"p":"b","g":"N","x":2.65,"y":45},{"p":"b","g":"N","x":2.77,"y":55},{"p":"b","g":"N","x":2.9,"y":48},{"p":"b","g":"N","x":3.0,"y":44},{"p":"b","g":"N","x":3.2,"y":37},{"p":"b","g":"N","x":3.37,"y":33},{"p":"b","g":"N","x":3.55,"y":38},{"p":"b","g":"N","x":3.7,"y":34},{"p":"b","g":"N","x":4.0,"y":30},{"p":"b","g":"N","x":4.3,"y":27},{"p":"b","g":"N","x":4.7,"y":22},{"p":"b","g":"N","x":5.1,"y":18},{"p":"b","g":"N","x":5.8,"y":16},{"p":"b","g":"N","x":6.5,"y":14},{"p":"b","g":"N","x":8,"y":10.2},{"p":"b","g":"N","x":10,"y":6.6},{"p":"b","g":"N","x":12,"y":3.7},{"p":"b","g":"N","x":14.2,"y":2.3},{"p":"b","g":"N","x":17,"y":1.45},{"p":"b","g":"N","x":19.4,"y":1.0},{"p":"b","g":"N","x":25,"y":0.62},{"p":"b","g":"N","x":30,"y":0.42},{"p":"b","g":"N","x":40,"y":0.235},{"p":"b","g":"N","x":50,"y":0.15},{"p":"b","g":"N","x":61,"y":0.1},{"p":"b","g":"N","x":70,"y":0.073},{"p":"b","g":"N","x":81,"y":0.053},{"p":"b","g":"N","x":90,"y":0.042}
]},
"hconcat":[
{"width":523,"height":401,
"title":{"text":"Stellar unattenuated"},
"data":{"name":"sed"},
"transform":[{"filter":"datum.p != 'a'"},{"lookup":"g","from":{"data":{"name":"names"},"key":"g","fields":["name"]}}],
"mark":{"type":"line"},
"encoding":{
"x":{"field":"x","type":"quantitative","scale":{"type":"log","domain":[0.05,100],"nice":false},
"axis":{"title":"Observed wavelength [μm]","values":[0.05,0.06,0.07,0.08,0.09,0.1,0.2,0.3,0.4,0.5,0.6,0.7,0.8,0.9,1,2,3,4,5,6,7,8,9,10,20,30,40,50,60,70,80,90,100],
"labelExpr":"datum.value === 0.1 ? '10⁻¹' : datum.value === 1 ? '10⁰' : datum.value === 10 ? '10¹' : datum.value === 100 ? '10²' : ''",
"labelPadding":9,
"tickSize":{"condition":{"test":"indexof([0.1,1,10,100], datum.value) >= 0","value":5},"value":3},
"gridOpacity":{"condition":{"test":"indexof([0.1,1,10,100], datum.value) >= 0","value":1},"value":0}}},
"y":{"field":"y","type":"quantitative","scale":{"type":"log","domain":[0.05,200],"nice":false},
"axis":{"title":"Flux Density [mJy]","titlePadding":13,"values":[0.05,0.06,0.07,0.08,0.09,0.1,0.2,0.3,0.4,0.5,0.6,0.7,0.8,0.9,1,2,3,4,5,6,7,8,9,10,20,30,40,50,60,70,80,90,100],
"labelExpr":"datum.value === 0.1 ? '10⁻¹' : datum.value === 1 ? '10⁰' : datum.value === 10 ? '10¹' : datum.value === 100 ? '10²' : ''",
"tickSize":{"condition":{"test":"indexof([0.1,1,10,100], datum.value) >= 0","value":5},"value":3},
"gridOpacity":{"condition":{"test":"indexof([0.1,1,10,100], datum.value) >= 0","value":1},"value":0}}},
"color":{"field":"name","type":"nominal","title":null,"scale":{"domain":["Mrk\u00a0\u00a0509","Mrk\u00a0\u00a0705","Mrk\u00a0\u00a0493","NGC\u00a0\u00a04507","UGC\u00a0\u00a01395","ESO 428-14"],"range":["#1f77b4","#ff7f0e","#2ca02c","#d62728","#9467bd","#8c564b"]}}
}},
{"width":523,"height":401,
"title":{"text":"Stellar attenuated"},
"data":{"name":"sed"},
"transform":[{"filter":"datum.p != 'u'"},{"lookup":"g","from":{"data":{"name":"names"},"key":"g","fields":["name"]}}],
"mark":{"type":"line"},
"encoding":{
"x":{"field":"x","type":"quantitative","scale":{"type":"log","domain":[0.05,100],"nice":false},
"axis":{"title":"Observed wavelength [μm]","values":[0.05,0.06,0.07,0.08,0.09,0.1,0.2,0.3,0.4,0.5,0.6,0.7,0.8,0.9,1,2,3,4,5,6,7,8,9,10,20,30,40,50,60,70,80,90,100],
"labelExpr":"datum.value === 0.1 ? '10⁻¹' : datum.value === 1 ? '10⁰' : datum.value === 10 ? '10¹' : datum.value === 100 ? '10²' : ''",
"labelPadding":9,
"tickSize":{"condition":{"test":"indexof([0.1,1,10,100], datum.value) >= 0","value":5},"value":3},
"gridOpacity":{"condition":{"test":"indexof([0.1,1,10,100], datum.value) >= 0","value":1},"value":0}}},
"y":{"field":"y","type":"quantitative","scale":{"type":"log","domain":[0.05,200],"nice":false},
"axis":{"title":null,"labels":false,"values":[0.05,0.06,0.07,0.08,0.09,0.1,0.2,0.3,0.4,0.5,0.6,0.7,0.8,0.9,1,2,3,4,5,6,7,8,9,10,20,30,40,50,60,70,80,90,100],
"tickSize":{"condition":{"test":"indexof([0.1,1,10,100], datum.value) >= 0","value":5},"value":3},
"gridOpacity":{"condition":{"test":"indexof([0.1,1,10,100], datum.value) >= 0","value":1},"value":0}}},
"color":{"field":"name","type":"nominal","title":null,"scale":{"domain":["Mrk\u00a0\u00a0509","Mrk\u00a0\u00a0705","Mrk\u00a0\u00a0493","NGC\u00a0\u00a04507","UGC\u00a0\u00a01395","ESO 428-14"],"range":["#1f77b4","#ff7f0e","#2ca02c","#d62728","#9467bd","#8c564b"]}}
}}
],
"resolve":{"legend":{"color":"independent"}},
"config":{
"font":"DejaVu Sans",
"view":{"stroke":"black","strokeWidth":1},
"title":{"anchor":"start","frame":"group","orient":"top","offset":-32,"dx":25,"baseline":"alphabetic","fontSize":20,"fontWeight":"normal","font":"DejaVu Sans","color":"black"},
"axis":{"domainColor":"black","tickColor":"black","labelColor":"black","titleColor":"black","labelFont":"DejaVu Sans","labelFontSize":14,"labelPadding":3,"titleFont":"DejaVu Sans","titleFontSize":18,"titleFontWeight":"normal","gridColor":"#ececec","labelOverlap":false,"labelFlush":false,"labelBound":false,"titlePadding":8},
"line":{"strokeWidth":1.3,"strokeDash":[6.4,1.6,1,1.6],"clip":true},
"legend":{"orient":"top-right","offset":6,"padding":6,"strokeColor":"#cccccc","fillColor":"rgba(255,255,255,0.85)","cornerRadius":3,"labelFont":"DejaVu Sans","labelFontSize":13.5,"labelColor":"black","symbolType":"M-2,0H2","symbolSize":196,"symbolOffset":7,"symbolFillColor":"transparent","symbolStrokeWidth":1.5,"symbolDash":[6.4,1.6,1,1.6],"rowPadding":6.8,"labelOffset":25}
}
}
